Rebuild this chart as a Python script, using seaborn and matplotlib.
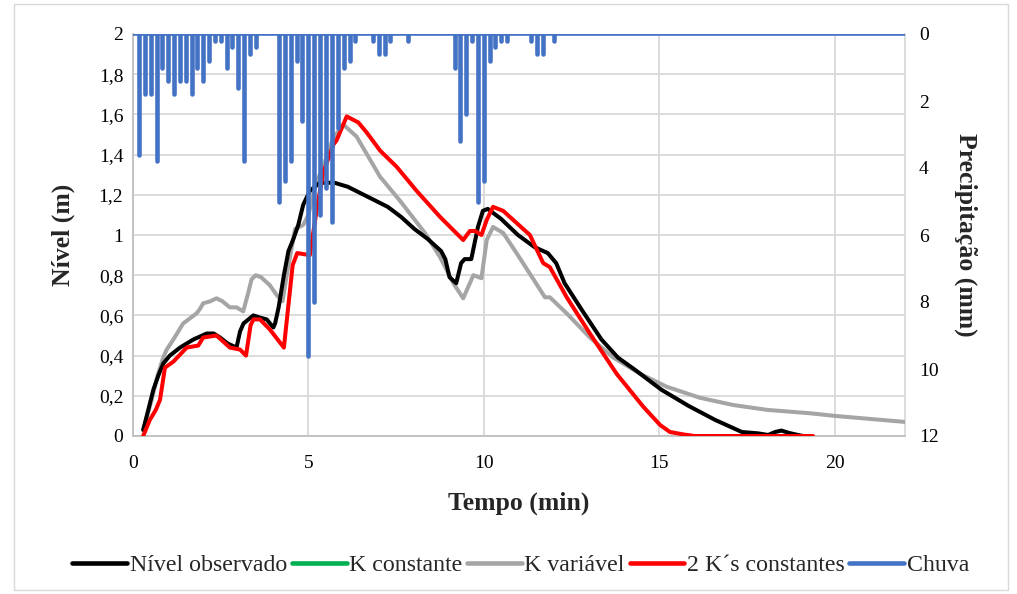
import numpy as np
import pandas as pd
import matplotlib
matplotlib.use("Agg")
import matplotlib.pyplot as plt
import seaborn as sns
from matplotlib.ticker import FuncFormatter, FixedLocator
from matplotlib.lines import Line2D

# ---------------- data ----------------
obs_t = [0.29, 0.45, 0.58, 0.72, 0.86, 1.05, 1.34, 1.72, 2.1, 2.3, 2.48, 2.7, 2.95, 3.05, 3.15,
         3.43, 3.6, 3.81, 4.0, 4.05, 4.15, 4.3, 4.43, 4.57, 4.71, 4.85, 5.04, 5.33, 5.74, 6.12,
         6.69, 7.26, 7.64, 8.02, 8.40, 8.78, 8.9, 9.02, 9.21, 9.35, 9.45, 9.64, 9.83, 9.97, 10.11,
         10.49, 10.97, 11.44, 11.82, 12.06, 12.30, 12.78, 13.35, 13.82, 14.30, 15.06, 15.83,
         16.59, 17.35, 17.82, 18.1, 18.3, 18.48, 18.7, 18.95, 19.1]
obs_y = [0.03, 0.14, 0.23, 0.30, 0.36, 0.40, 0.44, 0.48, 0.51, 0.51, 0.49, 0.46, 0.44, 0.52, 0.56,
         0.60, 0.59, 0.58, 0.54, 0.56, 0.64, 0.80, 0.92, 0.98, 1.05, 1.15, 1.22, 1.26, 1.26, 1.24,
         1.19, 1.14, 1.09, 1.03, 0.98, 0.92, 0.88, 0.79, 0.76, 0.86, 0.88, 0.88, 1.04, 1.12, 1.13,
         1.08, 1.00, 0.94, 0.91, 0.86, 0.76, 0.63, 0.48, 0.39, 0.33, 0.23, 0.15,
         0.08, 0.02, 0.013, 0.005, 0.02, 0.027, 0.015, 0.005, 0.0]

kvar_t = [0.29, 0.5, 0.7, 0.86, 0.96, 1.15, 1.43, 1.81, 1.9, 2.0, 2.2, 2.38, 2.55, 2.76, 2.95,
          3.14, 3.28, 3.38, 3.5, 3.65, 3.9, 4.1, 4.26, 4.4, 4.62, 4.85, 5.0, 5.2, 5.42, 5.7, 5.99,
          6.37, 7.04, 7.61, 8.32, 8.75, 9.13, 9.41, 9.70, 9.93, 10.08, 10.26, 10.55, 10.93, 11.41,
          11.74, 11.88, 12.36, 13.02, 13.69, 14.45, 15.21, 16.16, 17.11, 18.07, 19.3, 20.0, 21.0, 22.0]
kvar_y = [0.03, 0.16, 0.30, 0.39, 0.43, 0.48, 0.56, 0.61, 0.63, 0.66, 0.67, 0.685, 0.67, 0.64, 0.64,
          0.62, 0.71, 0.78, 0.80, 0.79, 0.75, 0.70, 0.67, 0.82, 1.03, 1.05, 1.10, 1.25, 1.34, 1.48, 1.55,
          1.49, 1.29, 1.17, 1.01, 0.89, 0.76, 0.685, 0.80, 0.785, 0.975, 1.04, 1.01, 0.91, 0.78,
          0.69, 0.69, 0.61, 0.49, 0.39, 0.31, 0.245, 0.19, 0.154, 0.13, 0.113, 0.10, 0.085, 0.07]

k2_t = [0.29, 0.48, 0.65, 0.77, 0.91, 1.15, 1.53, 1.86, 2.0, 2.38, 2.76, 3.05, 3.22, 3.35, 3.43,
        3.62, 3.90, 4.30, 4.55, 4.68, 5.04, 5.23, 5.42, 5.71, 5.80, 6.09, 6.42, 6.66, 7.04, 7.51,
        8.08, 8.75, 9.41, 9.60, 9.75, 9.93, 10.08, 10.26, 10.55, 10.93, 11.31, 11.69, 11.88, 12.36,
        13.02, 13.78, 14.54, 15.02, 15.3, 15.68, 16.0, 19.38]
k2_y = [0.0, 0.08, 0.13, 0.18, 0.34, 0.37, 0.44, 0.45, 0.49, 0.50, 0.44, 0.43, 0.40, 0.55, 0.58,
        0.58, 0.53, 0.44, 0.85, 0.91, 0.90, 1.12, 1.31, 1.45, 1.47, 1.59, 1.56, 1.51, 1.42, 1.34,
        1.22, 1.09, 0.975, 1.02, 1.02, 1.0, 1.075, 1.14, 1.12, 1.06, 1.0, 0.86, 0.84, 0.69,
        0.51, 0.31, 0.146, 0.055, 0.02, 0.008, 0.0, 0.0]

rain_t = [0.17, 0.33, 0.50, 0.67, 0.83, 1.00, 1.17, 1.33, 1.50, 1.67, 1.83, 2.00, 2.17, 2.33,
          2.50, 2.67, 2.83, 3.00, 3.17, 3.33, 3.50,
          4.17, 4.33, 4.50, 4.67, 4.83, 5.00, 5.17, 5.33, 5.50, 5.67, 5.83, 6.00, 6.17, 6.33,
          6.83, 7.00, 7.17, 7.33, 7.83,
          9.17, 9.33, 9.50, 9.67, 9.83, 10.00, 10.17, 10.33, 10.50, 10.67,
          11.33, 11.50, 11.67, 12.00]
rain_mm = [3.6, 1.8, 1.8, 3.8, 1.0, 1.4, 1.8, 1.4, 1.4, 1.8, 1.0, 1.4, 0.8, 0.2,
           0.2, 1.0, 0.4, 1.6, 3.8, 0.6, 0.4,
           5.0, 4.4, 3.8, 0.8, 2.6, 9.6, 8.0, 5.4, 4.6, 5.6, 2.8, 1.0, 0.8, 0.2,
           0.2, 0.6, 0.6, 0.2, 0.2,
           1.0, 3.2, 2.4, 0.2, 5.0, 4.4, 0.8, 0.4, 0.2, 0.2,
           0.2, 0.6, 0.6, 0.2]

y_ticks = [0, 0.2, 0.4, 0.6, 0.8, 1.0, 1.2, 1.4, 1.6, 1.8, 2.0]
y2_ticks = [0, 2, 4, 6, 8, 10, 12]
x_ticks = [0, 5, 10, 15, 20]

labels = ["Nível observado", "K constante", "K variável", "2 K´s constantes", "Chuva"]
colors = ["#000000", "#00B050", "#A5A5A5", "#FF0000", "#4472C4"]

# ---------------- plot ----------------
sns.set_theme(style="white")
plt.rcParams["font.family"] = ["Liberation Serif", "DejaVu Serif"]

fig = plt.figure(figsize=(10.17, 5.94), dpi=100)
ax = fig.add_axes([133/1017, 1-436/594, (905-133)/1017, (436-34)/594])

lw = 2.9
sns.lineplot(x=kvar_t, y=kvar_y, ax=ax, color=colors[2], lw=lw, sort=False, zorder=3)
sns.lineplot(x=obs_t, y=obs_y, ax=ax, color=colors[0], lw=lw, sort=False, zorder=4)
sns.lineplot(x=k2_t, y=k2_y, ax=ax, color=colors[3], lw=lw, sort=False, zorder=5)

ax.set_xlim(0, 22)
ax.set_ylim(0, 2)
ax.yaxis.set_major_locator(FixedLocator(y_ticks))
ax.xaxis.set_major_locator(FixedLocator(x_ticks))
comma = FuncFormatter(lambda v, p: ("%g" % round(v, 1)).replace(".", ","))
ax.yaxis.set_major_formatter(comma)
ax.grid(True, color="#D9D9D9", lw=1.3)
ax.set_axisbelow(True)
ax.spines["top"].set_visible(False)
ax.spines["left"].set_color("#BFBFBF")
ax.spines["bottom"].set_color("#BFBFBF")
ax.spines["right"].set_color("#D9D9D9")
for sp in ax.spines.values():
    sp.set_linewidth(1.3)
ax.tick_params(axis="x", labelsize=14, length=0, pad=14, colors="#000000")
ax.tick_params(axis="y", labelsize=14, length=0, pad=7, colors="#000000")
ax.set_xlabel("Tempo (min)", fontsize=18.5, fontweight="bold", labelpad=14)
ax.set_ylabel("Nível (m)", fontsize=18.5, fontweight="bold", labelpad=17)

ax2 = ax.twinx()
ax2.vlines(rain_t, 0, rain_mm, color=colors[4], lw=3.3, capstyle="round", zorder=6)
ax2.axhline(0, color=colors[4], lw=2.6, zorder=6)
ax2.set_ylim(12, 0)
ax2.yaxis.set_major_locator(FixedLocator(y2_ticks))
ax2.tick_params(axis="y", labelsize=14, length=0, pad=10, colors="#000000")
ax2.set_ylabel("Precipitação (mm)", fontsize=18.5, fontweight="bold", rotation=270, labelpad=28)
for sp in ax2.spines.values():
    sp.set_visible(False)
ax2.grid(False)

handles = [Line2D([0], [0], color=c, lw=3.3) for c in colors]
fig.legend(handles, labels, loc="center", bbox_to_anchor=(0.512, 1-565/594), ncol=5,
           frameon=False, fontsize=17.2, handlelength=2.3, handletextpad=0.1, columnspacing=0.2)

# outer chart border
fig.add_artist(plt.Rectangle((14/1017, 4/594), (1008-14)/1017, (594-8)/594,
                             transform=fig.transFigure, fill=False, edgecolor="#D9D9D9", lw=1))

fig.savefig("out.png", dpi=100)
